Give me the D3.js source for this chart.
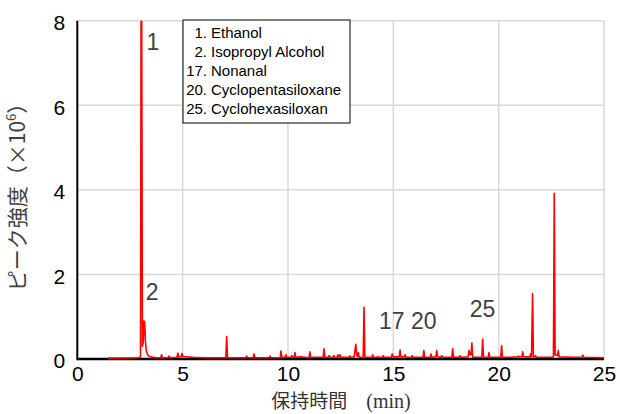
<!DOCTYPE html>
<html>
<head>
<meta charset="utf-8">
<script src="https://cdn.jsdelivr.net/npm/d3@7"></script>
<style>
body { margin: 0; background: #fff; }
</style>
</head>
<body>
<div id="chart"></div>
<script>
// retention time (min) and detector response (x10^6)
const rtMin = [1.45, 2.9, 3.0, 3.04, 3.09, 3.13, 3.16, 3.2, 3.23, 3.27, 3.35, 3.5, 3.7,
  3.96, 4.0, 4.04, 4.31, 4.35, 4.39, 4.73, 4.77, 4.81, 4.9, 4.93, 4.97, 5.01, 5.2, 5.5, 6.0,
  7.05, 7.09, 7.13, 8.0, 8.04, 8.08, 8.35, 8.39, 8.43, 9.11, 9.15, 9.19, 9.63, 9.67, 9.71,
  9.86, 9.9, 9.94, 10.14, 10.18, 10.22, 10.29, 10.33, 10.37, 10.6, 11.0, 11.04, 11.08,
  11.67, 11.71, 11.75, 11.91, 11.95, 11.99, 12.14, 12.18, 12.22, 12.33, 12.37, 12.41, 12.43, 12.47, 12.51,
  12.9, 12.94, 12.98, 13.14, 13.18, 13.22, 13.26, 13.3, 13.34, 13.38, 13.57, 13.61, 13.65,
  13.98, 14.02, 14.06, 14.23, 14.27, 14.31, 14.48, 14.52, 14.56, 14.91, 14.95, 14.99,
  15.28, 15.32, 15.36, 15.52, 15.56, 15.6, 15.86, 15.9, 15.94, 16.41, 16.45, 16.49,
  16.75, 16.79, 16.83, 17.02, 17.06, 17.1, 17.26, 17.3, 17.34, 17.78, 17.82, 17.86,
  18.12, 18.16, 18.2, 18.55, 18.59, 18.64, 18.69, 18.73, 18.77, 19.2, 19.24, 19.28,
  19.5, 19.54, 19.58, 20.1, 20.14, 20.18, 20.5, 20.89, 20.93, 20.97, 21.1, 21.14, 21.18,
  21.48, 21.52, 21.56, 21.61, 21.65, 21.71, 21.75, 21.79, 22.6, 22.64, 22.68, 22.79, 22.83, 22.87,
  23.5, 23.96, 24.0, 24.04, 25.0];
const intensity = [0.02, 0.03, 0.05, 12, 0.3, 0.4, 0.9, 0.88, 0.45, 0.2, 0.08, 0.05, 0.03,
  0.03, 0.1, 0.03, 0.03, 0.07, 0.03, 0.04, 0.14, 0.05, 0.05, 0.06, 0.13, 0.06, 0.05, 0.04, 0.03,
  0.03, 0.53, 0.03, 0.03, 0.07, 0.03, 0.03, 0.12, 0.03, 0.03, 0.07, 0.03, 0.03, 0.19, 0.04,
  0.04, 0.1, 0.04, 0.04, 0.08, 0.04, 0.04, 0.15, 0.04, 0.05, 0.03, 0.17, 0.04,
  0.04, 0.24, 0.04, 0.04, 0.08, 0.04, 0.04, 0.08, 0.04, 0.04, 0.1, 0.05, 0.05, 0.1, 0.04,
  0.04, 0.07, 0.04, 0.05, 0.2, 0.35, 0.1, 0.06, 0.15, 0.04, 0.04, 1.22, 0.04,
  0.04, 0.1, 0.04, 0.04, 0.06, 0.04, 0.04, 0.08, 0.04, 0.04, 0.12, 0.05,
  0.05, 0.21, 0.05, 0.05, 0.1, 0.04, 0.04, 0.08, 0.04, 0.04, 0.2, 0.04,
  0.04, 0.12, 0.04, 0.05, 0.2, 0.05, 0.04, 0.08, 0.04, 0.04, 0.24, 0.04,
  0.04, 0.08, 0.04, 0.05, 0.2, 0.1, 0.1, 0.38, 0.04, 0.04, 0.47, 0.04,
  0.04, 0.15, 0.04, 0.04, 0.31, 0.04, 0.04, 0.05, 0.07, 0.05, 0.05, 0.17, 0.05,
  0.05, 0.12, 0.05, 1.54, 0.05, 0.05, 0.08, 0.04, 0.04, 3.92, 0.1, 0.08, 0.2, 0.05,
  0.04, 0.04, 0.09, 0.04, 0.03];

const xTicks = [0, 5, 10, 15, 20, 25];
const yTicks = [0, 2, 4, 6, 8];

const legendNums = ["1", "2", "17", "20", "25"];
const legendNames = ["Ethanol", "Isopropyl Alcohol", "Nonanal", "Cyclopentasiloxane", "Cyclohexasiloxan"];

const tagText = ["1", "2", "17 20", "25"];
const tagTime = [3.59, 3.55, 15.69, 19.23];
const tagValue = [7.3, 1.39, 0.71, 0.99];

const W = 620, H = 414;
const margin = {top: 20.7, right: 16, bottom: 55, left: 77.3};
const w = W - margin.left - margin.right;
const h = H - margin.top - margin.bottom;

const svg = d3.select("#chart").append("svg")
  .attr("width", W).attr("height", H)
  .style("font-family", "Arial, 'Liberation Sans', sans-serif");

const g = svg.append("g").attr("transform", "translate(" + margin.left + "," + margin.top + ")");

const x = d3.scaleLinear().domain([0, 25]).range([0, w]);
const y = d3.scaleLinear().domain([0, 8]).range([h, 0]);

// grid
g.selectAll(".vgrid").data(xTicks.slice(1)).enter().append("line")
  .attr("x1", d => x(d)).attr("x2", d => x(d))
  .attr("y1", 0).attr("y2", h)
  .attr("stroke", "#d9d9d9").attr("stroke-width", 1.5);
g.selectAll(".hgrid").data(yTicks.slice(1)).enter().append("line")
  .attr("x1", 0).attr("x2", w)
  .attr("y1", d => y(d)).attr("y2", d => y(d))
  .attr("stroke", "#d9d9d9").attr("stroke-width", 1.5);

// axes
const xAxis = g.append("g").attr("transform", "translate(0," + h + ")")
  .call(d3.axisBottom(x).tickValues(xTicks).tickSize(0).tickPadding(7));
xAxis.select(".domain").remove();
xAxis.selectAll("text").attr("font-size", 21).attr("fill", "#000")
  .style("font-family", "Arial, 'Liberation Sans', sans-serif");

const yAxis = g.append("g")
  .call(d3.axisLeft(y).tickValues(yTicks).tickSize(0).tickPadding(12));
yAxis.select(".domain").remove();
yAxis.selectAll("text").attr("font-size", 21).attr("fill", "#000").attr("dy", "0.42em")
  .style("font-family", "Arial, 'Liberation Sans', sans-serif");

g.append("line").attr("x1", 0).attr("x2", w).attr("y1", h).attr("y2", h)
  .attr("stroke", "#000").attr("stroke-width", 2.5);
g.append("line").attr("x1", 0).attr("x2", 0).attr("y1", 0).attr("y2", h + 1.25)
  .attr("stroke", "#000").attr("stroke-width", 2);

// trace
g.append("clipPath").attr("id", "clip").append("rect")
  .attr("x", 0).attr("y", 0).attr("width", w + 2).attr("height", h);
const pts = rtMin.map((t, i) => [t, intensity[i]]);
g.append("path")
  .datum(pts)
  .attr("clip-path", "url(#clip)")
  .attr("fill", "none")
  .attr("stroke", "#ff0000")
  .attr("stroke-width", 1.6)
  .attr("stroke-linejoin", "round")
  .attr("d", d3.line().x(d => x(d[0])).y(d => y(d[1])));

// peak numbers
g.selectAll(".tag").data(tagText).enter().append("text")
  .attr("x", (d, i) => x(tagTime[i]))
  .attr("y", (d, i) => y(tagValue[i]))
  .attr("text-anchor", "middle")
  .attr("font-size", 23)
  .attr("fill", "#404040")
  .text(d => d);

// legend box
const lg = svg.append("g").attr("transform", "translate(183,20)");
lg.append("rect").attr("width", 167).attr("height", 103)
  .attr("fill", "#fff").attr("stroke", "#000").attr("stroke-width", 1);
lg.selectAll(".ln").data(legendNums).enter().append("text")
  .attr("x", 24).attr("y", (d, i) => 18 + i * 19)
  .attr("text-anchor", "end").attr("font-size", 15).attr("fill", "#000")
  .text(d => d + ".");
lg.selectAll(".lt").data(legendNames).enter().append("text")
  .attr("x", 28).attr("y", (d, i) => 18 + i * 19)
  .attr("font-size", 15).attr("fill", "#000")
  .text(d => d);

// axis titles
svg.append("text")
  .attr("transform", "translate(25,192) rotate(-90)")
  .attr("text-anchor", "middle")
  .attr("font-size", 21)
  .attr("fill", "#404040")
  .style("font-family", "'Noto Sans CJK JP', sans-serif")
  .html("ピーク強度（×10<tspan baseline-shift='super' font-size='13'>6</tspan>）");

const xt = svg.append("text")
  .attr("x", 341).attr("y", 408)
  .attr("text-anchor", "middle")
  .attr("font-size", 19)
  .attr("fill", "#333");
xt.append("tspan").style("font-family", "'Noto Sans CJK JP', sans-serif").text("保持時間　");
xt.append("tspan").style("font-family", "'Liberation Serif', serif").attr("font-size", 20).text("(min)");
</script>
</body>
</html>
